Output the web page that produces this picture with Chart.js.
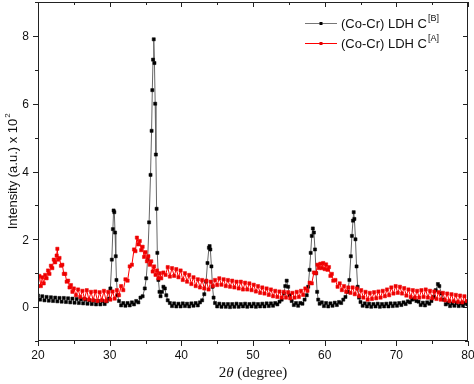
<!DOCTYPE html>
<html lang="en">
<head>
  <meta charset="UTF-8" />
  <title>XRD (Co-Cr) LDH</title>
  <script src="https://cdn.jsdelivr.net/npm/chart.js"></script>
  <style>
    body { margin: 0; padding: 0; background: white; }
    #wrap { width: 474px; height: 384px; }
  </style>
</head>
<body>
  <div id="wrap"><canvas id="xrdChart" width="474" height="384"></canvas></div>

  <script>
    // 2θ positions (degree) and intensity (a.u. x 10^2)
    const thetaB = [
      20.0, 20.3, 20.6, 20.9, 21.2, 21.5, 21.8, 22.1, 22.4, 22.7, 23.0, 23.3, 23.6, 23.9, 24.2, 24.5, 24.8,
      25.1, 25.4, 25.7, 26.0, 26.3, 26.6, 26.9, 27.2, 27.5, 27.8, 28.1, 28.4, 28.7, 29.0, 29.3, 29.6, 29.9,
      30.1, 30.3, 30.45, 30.55, 30.65, 30.75, 30.85, 30.95, 31.1, 31.3, 31.6, 31.9, 32.2, 32.5, 32.8, 33.1,
      33.4, 33.7, 34.0, 34.3, 34.6, 34.9, 35.1, 35.3, 35.5, 35.7, 35.85, 35.95, 36.05, 36.15, 36.25, 36.35,
      36.45, 36.55, 36.65, 36.8, 36.95, 37.1, 37.3, 37.5, 37.7, 37.9, 38.1, 38.4, 38.7, 39.0, 39.3, 39.6,
      39.9, 40.2, 40.5, 40.8, 41.1, 41.4, 41.7, 42.0, 42.3, 42.6, 42.9, 43.2, 43.45, 43.65, 43.85, 43.95,
      44.05, 44.2, 44.35, 44.5, 44.7, 45.0, 45.3, 45.6, 45.9, 46.2, 46.5, 46.8, 47.1, 47.4, 47.7, 48.0,
      48.3, 48.6, 48.9, 49.2, 49.5, 49.8, 50.1, 50.4, 50.7, 51.0, 51.3, 51.6, 51.9, 52.2, 52.5, 52.8, 53.1,
      53.4, 53.7, 54.0, 54.3, 54.5, 54.7, 54.9, 55.1, 55.4, 55.7, 56.0, 56.3, 56.6, 56.9, 57.2, 57.5, 57.7,
      57.9, 58.05, 58.2, 58.35, 58.5, 58.65, 58.8, 58.95, 59.1, 59.3, 59.6, 59.9, 60.2, 60.5, 60.8, 61.1,
      61.4, 61.7, 62.0, 62.3, 62.6, 62.9, 63.2, 63.45, 63.65, 63.8, 63.95, 64.05, 64.15, 64.3, 64.45, 64.6,
      64.8, 65.0, 65.3, 65.6, 65.9, 66.2, 66.5, 66.8, 67.1, 67.4, 67.7, 68.0, 68.3, 68.6, 68.9, 69.2, 69.5,
      69.8, 70.1, 70.4, 70.7, 71.0, 71.3, 71.6, 71.9, 72.2, 72.5, 72.8, 73.1, 73.4, 73.7, 74.0, 74.3, 74.6,
      74.9, 75.2, 75.5, 75.8, 76.0, 76.3, 76.6, 76.9, 77.2, 77.5, 77.8, 78.1, 78.4, 78.7, 79.0, 79.3, 79.6, 79.9
    ];
    const intensityB = [
      0.34, 0.22, 0.32, 0.20, 0.30, 0.19, 0.29, 0.18, 0.28, 0.17, 0.27, 0.16, 0.27, 0.15, 0.26, 0.14, 0.25,
      0.13, 0.24, 0.12, 0.23, 0.11, 0.22, 0.10, 0.20, 0.09, 0.19, 0.08, 0.18, 0.08, 0.18, 0.09, 0.17, 0.25,
      0.55, 1.40, 2.30, 2.85, 2.80, 2.20, 1.50, 0.80, 0.35, 0.18, 0.05, 0.12, 0.04, 0.12, 0.05, 0.14,
      0.08, 0.18, 0.14, 0.28, 0.32, 0.55, 0.85, 1.40, 2.50, 3.90, 5.20, 6.40, 7.30, 7.90, 7.20, 6.00,
      4.50, 2.90, 1.60, 0.80, 0.45, 0.32, 0.45, 0.60, 0.55, 0.35, 0.20, 0.12, 0.03, 0.11, 0.02, 0.10,
      0.02, 0.11, 0.03, 0.10, 0.02, 0.11, 0.04, 0.12, 0.05, 0.14, 0.20, 0.38, 0.75, 1.30, 1.75, 1.80,
      1.70, 1.20, 0.60, 0.28, 0.12, 0.02, 0.10, 0.01, 0.09, 0.01, 0.09, 0.00, 0.09, 0.01, 0.10, 0.01,
      0.09, 0.02, 0.10, 0.01, 0.09, 0.02, 0.10, 0.01, 0.09, 0.02, 0.10, 0.02, 0.11, 0.03, 0.11, 0.04, 0.12,
      0.08, 0.16, 0.22, 0.40, 0.62, 0.78, 0.60, 0.35, 0.18, 0.06, 0.12, 0.04, 0.12, 0.10, 0.22, 0.35, 0.60,
      1.10, 1.60, 2.10, 2.32, 2.20, 1.70, 1.00, 0.45, 0.22, 0.10, 0.14, 0.03, 0.12, 0.02, 0.11, 0.04,
      0.13, 0.06, 0.15, 0.12, 0.22, 0.30, 0.45, 0.80, 1.50, 2.10, 2.55, 2.80, 2.60, 2.00, 1.20, 0.60,
      0.28, 0.15, 0.04, 0.11, 0.02, 0.10, 0.01, 0.09, 0.02, 0.10, 0.01, 0.09, 0.02, 0.10, 0.02, 0.11, 0.03,
      0.11, 0.04, 0.12, 0.06, 0.14, 0.09, 0.17, 0.14, 0.22, 0.24, 0.18, 0.16, 0.06, 0.13, 0.05, 0.14, 0.10,
      0.18, 0.30, 0.50, 0.68, 0.62, 0.40, 0.22, 0.08, 0.13, 0.03, 0.11, 0.04, 0.12, 0.03, 0.11, 0.04, 0.12, 0.08
    ];

    const thetaA = [
      20.0, 20.2, 20.4, 20.6, 20.8, 21.0, 21.2, 21.4, 21.6, 21.8, 22.0, 22.2, 22.4, 22.6, 22.7, 22.8, 23.0,
      23.2, 23.4, 23.6, 23.8, 24.0, 24.2, 24.4, 24.6, 24.8, 25.0, 25.3, 25.6, 25.9, 26.2, 26.5, 26.8, 27.1,
      27.4, 27.7, 28.0, 28.3, 28.6, 28.9, 29.2, 29.5, 29.8, 30.1, 30.4, 30.7, 31.0, 31.3, 31.6, 31.9, 32.2,
      32.5, 32.8, 33.1, 33.4, 33.6, 33.8, 34.0, 34.2, 34.4, 34.6, 34.8, 35.0, 35.2, 35.4, 35.6, 35.8, 36.0,
      36.2, 36.4, 36.6, 36.8, 37.0, 37.2, 37.5, 37.8, 38.1, 38.4, 38.7, 39.0, 39.3, 39.6, 39.9, 40.2, 40.5,
      40.8, 41.1, 41.4, 41.7, 42.0, 42.3, 42.6, 42.9, 43.2, 43.5, 43.8, 44.1, 44.4, 44.7, 45.0, 45.3, 45.6,
      45.9, 46.2, 46.5, 46.8, 47.1, 47.4, 47.7, 48.0, 48.3, 48.6, 48.9, 49.2, 49.5, 49.8, 50.1, 50.4, 50.7,
      51.0, 51.3, 51.6, 51.9, 52.2, 52.5, 52.8, 53.1, 53.4, 53.7, 54.0, 54.3, 54.6, 54.9, 55.2, 55.5, 55.8,
      56.1, 56.4, 56.7, 57.0, 57.3, 57.6, 57.9, 58.2, 58.5, 58.8, 59.0, 59.2, 59.4, 59.6, 59.8, 60.0, 60.2,
      60.4, 60.6, 60.8, 61.0, 61.2, 61.5, 61.8, 62.1, 62.4, 62.7, 63.0, 63.3, 63.6, 63.9, 64.2, 64.5, 64.8,
      65.1, 65.4, 65.7, 66.0, 66.3, 66.6, 66.9, 67.2, 67.5, 67.8, 68.1, 68.4, 68.7, 69.0, 69.3, 69.6, 69.9,
      70.2, 70.5, 70.8, 71.1, 71.4, 71.7, 72.0, 72.3, 72.6, 72.9, 73.2, 73.5, 73.8, 74.1, 74.4, 74.7, 75.0,
      75.3, 75.6, 75.9, 76.2, 76.5, 76.8, 77.1, 77.4, 77.7, 78.0, 78.3, 78.6, 78.9, 79.2, 79.5, 79.8
    ];
    const intensityA = [
      0.62, 0.92, 0.62, 0.88, 0.70, 0.95, 0.85, 1.08, 0.98, 1.22, 1.15, 1.40, 1.32, 1.52, 1.72, 1.40, 1.45,
      1.22, 1.25, 0.98, 0.98, 0.75, 0.78, 0.58, 0.65, 0.45, 0.55, 0.35, 0.52, 0.30, 0.48, 0.25, 0.50, 0.22,
      0.45, 0.20, 0.46, 0.18, 0.44, 0.20, 0.48, 0.18, 0.45, 0.22, 0.46, 0.25, 0.50, 0.35, 0.62, 0.50, 0.82,
      0.78, 1.20, 1.25, 1.70, 1.65, 2.05, 1.85, 1.95, 1.68, 1.78, 1.48, 1.62, 1.35, 1.50, 1.25, 1.35, 1.05,
      1.20, 0.95, 1.08, 0.85, 1.00, 0.85, 1.02, 0.95, 1.18, 0.90, 1.15, 0.92, 1.12, 0.88, 1.08, 0.80, 1.00,
      0.75, 0.95, 0.68, 0.88, 0.62, 0.82, 0.58, 0.80, 0.55, 0.78, 0.52, 0.75, 0.62, 0.80, 0.65, 0.85, 0.66,
      0.82, 0.62, 0.80, 0.60, 0.78, 0.58, 0.75, 0.55, 0.75, 0.52, 0.72, 0.52, 0.70, 0.50, 0.66, 0.46, 0.62,
      0.42, 0.58, 0.40, 0.55, 0.36, 0.52, 0.32, 0.48, 0.30, 0.46, 0.28, 0.45, 0.28, 0.44, 0.26, 0.42, 0.28,
      0.45, 0.30, 0.48, 0.36, 0.55, 0.48, 0.72, 0.70, 1.02, 1.00, 1.25, 1.15, 1.28, 1.15, 1.30, 1.12, 1.26,
      1.10, 1.18, 0.92, 0.98, 0.78, 0.80, 0.60, 0.70, 0.50, 0.62, 0.45, 0.58, 0.42, 0.58, 0.38, 0.55, 0.32,
      0.50, 0.28, 0.45, 0.22, 0.42, 0.24, 0.44, 0.26, 0.46, 0.28, 0.48, 0.32, 0.52, 0.35, 0.58, 0.40, 0.62,
      0.42, 0.60, 0.40, 0.56, 0.34, 0.52, 0.30, 0.50, 0.28, 0.48, 0.28, 0.50, 0.30, 0.52, 0.28, 0.48, 0.26,
      0.46, 0.24, 0.44, 0.22, 0.42, 0.20, 0.40, 0.18, 0.38, 0.17, 0.36, 0.15, 0.34, 0.14, 0.32, 0.18
    ];

    const seriesLabels = ["(Co-Cr) LDH C", "(Co-Cr) LDH C"];
    const seriesSup = ["[B]", "[A]"];
    const xTicks = [20, 30, 40, 50, 60, 70, 80];
    const yTicks = [0, 2, 4, 6, 8];

    const toPoints = (xs, ys) => xs.map((x, i) => ({ x: x, y: ys[i] }));

    const sans = "'Liberation Sans', Arial, sans-serif";

    // fixed box sizes so the plot area lands where the picture has it
    function fixBox(size) {
      return s => {
        if (s.isHorizontal()) s.height = size; else s.width = size;
        s.paddingTop = 0; s.paddingBottom = 0; s.paddingLeft = 0; s.paddingRight = 0;
      };
    }

    // frame, tick marks (outer + mirrored inner), legend and axis titles
    const framePlugin = {
      id: "frame",
      afterDraw(chart) {
        const ctx = chart.ctx;
        const a = chart.chartArea;
        const xs = chart.scales.x, ys = chart.scales.y;
        ctx.save();
        ctx.strokeStyle = "#222";
        ctx.lineWidth = 1;
        ctx.strokeRect(a.left + 0.5, a.top + 0.5, a.right - a.left - 1, a.bottom - a.top - 1);

        ctx.beginPath();
        for (let v = 20; v <= 80; v += 5) {
          const px = Math.round(xs.getPixelForValue(v)) + 0.5;
          const len = v % 10 === 0 ? 5 : 3;
          ctx.moveTo(px, a.bottom); ctx.lineTo(px, a.bottom + len);
          ctx.moveTo(px, a.top); ctx.lineTo(px, a.top + len);
        }
        for (let v = -1; v <= 9; v += 1) {
          const py = Math.round(ys.getPixelForValue(v)) + 0.5;
          const len = v % 2 === 0 ? 5 : 3;
          ctx.moveTo(a.left, py); ctx.lineTo(a.left - len, py);
          ctx.moveTo(a.right, py); ctx.lineTo(a.right - len, py);
        }
        ctx.stroke();

        // tick labels
        ctx.fillStyle = "#111";
        ctx.font = "12px " + sans;
        ctx.textAlign = "center";
        ctx.textBaseline = "middle";
        xTicks.forEach(v => ctx.fillText(String(v), xs.getPixelForValue(v), a.bottom + 15));
        ctx.textAlign = "right";
        yTicks.forEach(v => ctx.fillText(String(v), a.left - 9, ys.getPixelForValue(v) + 1));

        // legend
        const colors = [["#777", "#000"], ["#f00", "#e00000"]];
        const rows = [23, 43];
        rows.forEach((y, i) => {
          ctx.strokeStyle = colors[i][0];
          ctx.beginPath();
          ctx.moveTo(305, y + 0.5); ctx.lineTo(337, y + 0.5);
          ctx.stroke();
          ctx.fillStyle = colors[i][1];
          ctx.fillRect(319.5, y - 1, 3, 3);
          ctx.fillStyle = "#111";
          ctx.font = "13px " + sans;
          ctx.textBaseline = "middle";
          ctx.textAlign = "left";
          ctx.fillText(seriesLabels[i], 341, y + 1);
          const w = ctx.measureText(seriesLabels[i]).width;
          ctx.font = "9px " + sans;
          ctx.fillText(seriesSup[i], 341 + w + 1, y - 4);
        });

        // x title: 2θ (degree)
        ctx.fillStyle = "#111";
        ctx.textBaseline = "middle";
        ctx.textAlign = "left";
        const serif = "'Liberation Serif', 'Times New Roman', serif";
        const parts = [["2", "15px " + serif], ["θ", "italic 15px " + serif], [" (degree)", "15px " + serif]];
        let total = 0;
        parts.forEach(p => { ctx.font = p[1]; total += ctx.measureText(p[0]).width; });
        let cx = (a.left + a.right) / 2 - total / 2;
        parts.forEach(p => { ctx.font = p[1]; ctx.fillText(p[0], cx, 373); cx += ctx.measureText(p[0]).width; });

        // y title
        ctx.translate(12, (a.top + a.bottom) / 2);
        ctx.rotate(-Math.PI / 2);
        ctx.font = "13px " + sans;
        const yt = "Intensity (a.u.) x 10";
        const ytw = ctx.measureText(yt).width;
        ctx.fillText(yt, -(ytw + 5) / 2, 1);
        ctx.font = "8px " + sans;
        ctx.fillText("2", -(ytw + 5) / 2 + ytw + 1, -4);
        ctx.restore();
      }
    };

    new Chart(document.getElementById("xrdChart").getContext("2d"), {
      type: "line",
      data: {
        datasets: [
          {
            label: seriesLabels[1] + seriesSup[1],
            data: toPoints(thetaA, intensityA),
            borderColor: "#ff0000",
            borderWidth: 1,
            pointStyle: "rect",
            pointRadius: 2.3,
            pointBorderWidth: 0.5,
            pointBackgroundColor: "#ee0000",
            pointBorderColor: "#ee0000",
            tension: 0,
            order: 0
          },
          {
            label: seriesLabels[0] + seriesSup[0],
            data: toPoints(thetaB, intensityB),
            borderColor: "#666",
            borderWidth: 1,
            pointStyle: "rect",
            pointRadius: 2.2,
            pointBorderWidth: 0.5,
            pointBackgroundColor: "#000",
            pointBorderColor: "#000",
            tension: 0,
            order: 1
          }
        ]
      },
      options: {
        responsive: false,
        animation: false,
        layout: { autoPadding: false, padding: { top: 2, right: 6, left: 0, bottom: 0 } },
        plugins: { legend: { display: false }, tooltip: { enabled: false } },
        scales: {
          x: {
            type: "linear",
            min: 20, max: 80,
            afterFit: fixBox(43),
            grid: { display: false },
            border: { display: false },
            ticks: { display: false }
          },
          y: {
            type: "linear",
            min: -1, max: 9,
            afterFit: fixBox(38),
            grid: { display: false },
            border: { display: false },
            ticks: { display: false }
          }
        }
      },
      plugins: [framePlugin]
    });
  </script>
</body>
</html>
